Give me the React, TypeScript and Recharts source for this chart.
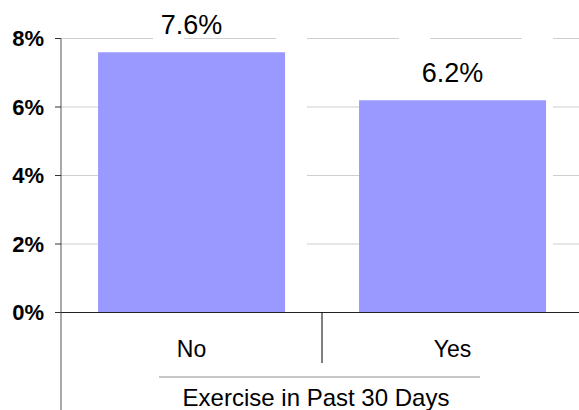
import React from 'react';
import {
    BarChart,
    Bar,
    XAxis,
    YAxis,
    CartesianGrid,
    LabelList,
    Label,
} from 'recharts';

const categories = ['No', 'Yes'];
const rates = [7.6, 6.2];
const yTicks = [0, 2, 4, 6, 8];
const axisTitle = 'Exercise in Past 30 Days';

const data = categories.map((name, i) => ({ name, rate: rates[i] }));

const FONT = '"Liberation Sans", Arial, sans-serif';
const W = 584;
const H = 410;
const TOP = 38.5;
const LEFT = 61;
const RIGHT = 1;
const BOTTOM = 97.5;
const AXIS_Y = H - BOTTOM;
const PLOT_W = W - LEFT - RIGHT;

const CategoryTick = (props: any) => {
    const { x, index, payload } = props;
    const band = PLOT_W / categories.length;
    return (
        <g>
            <text x={x} y={AXIS_Y + 44.5} textAnchor="middle" fontSize={23} fill="#000" fontFamily={FONT}>
                {payload.value}
            </text>
            {index < categories.length - 1 && (
                <line x1={x + band / 2} x2={x + band / 2} y1={AXIS_Y} y2={AXIS_Y + 50.5} stroke="#000" strokeWidth={1} />
            )}
            {index === 0 && (
                <line x1={x - band / 2} x2={x - band / 2} y1={AXIS_Y} y2={H} stroke="#555" strokeWidth={1} />
            )}
        </g>
    );
};

const AxisTitle = () => (
    <g>
        <line x1={159} x2={480} y1={AXIS_Y + 64.5} y2={AXIS_Y + 64.5} stroke="#b4b4b4" strokeWidth={1.5} />
        <text x={316} y={AXIS_Y + 93.5} textAnchor="middle" fontSize={24} fill="#000" fontFamily={FONT}>
            {axisTitle}
        </text>
    </g>
);

export default function App() {
    return (
        <div style={{ position: 'absolute', left: 0, top: 0, width: 579, height: 410, overflow: 'hidden', background: '#fff' }}>
            <BarChart
                width={W}
                height={H}
                data={data}
                margin={{ top: TOP, right: RIGHT, left: 0, bottom: 0 }}
                barCategoryGap="14.2%"
            >
                <CartesianGrid horizontal vertical={false} stroke="#cfcfcf" strokeDasharray="92 31" />
                <YAxis
                    type="number"
                    domain={[0, 8]}
                    ticks={yTicks}
                    width={LEFT}
                    tickFormatter={(v: number) => `${v}%`}
                    axisLine={{ stroke: '#555' }}
                    tickLine={{ stroke: '#333' }}
                    tickSize={6}
                    tickMargin={11}
                    tick={{ fontSize: 22, fontWeight: 'bold', fill: '#000', fontFamily: FONT }}
                />
                <XAxis
                    dataKey="name"
                    axisLine={{ stroke: '#222' }}
                    tickLine={false}
                    tick={<CategoryTick />}
                    interval={0}
                    height={BOTTOM}
                >
                    <Label content={<AxisTitle />} />
                </XAxis>
                <Bar dataKey="rate" fill="#9999FF" isAnimationActive={false}>
                    <LabelList
                        dataKey="rate"
                        position="top"
                        offset={18.5}
                        formatter={(v: any) => `${v}%`}
                        style={{ fontSize: 27, fill: '#000', fontFamily: FONT }}
                    />
                </Bar>
            </BarChart>
        </div>
    );
}
